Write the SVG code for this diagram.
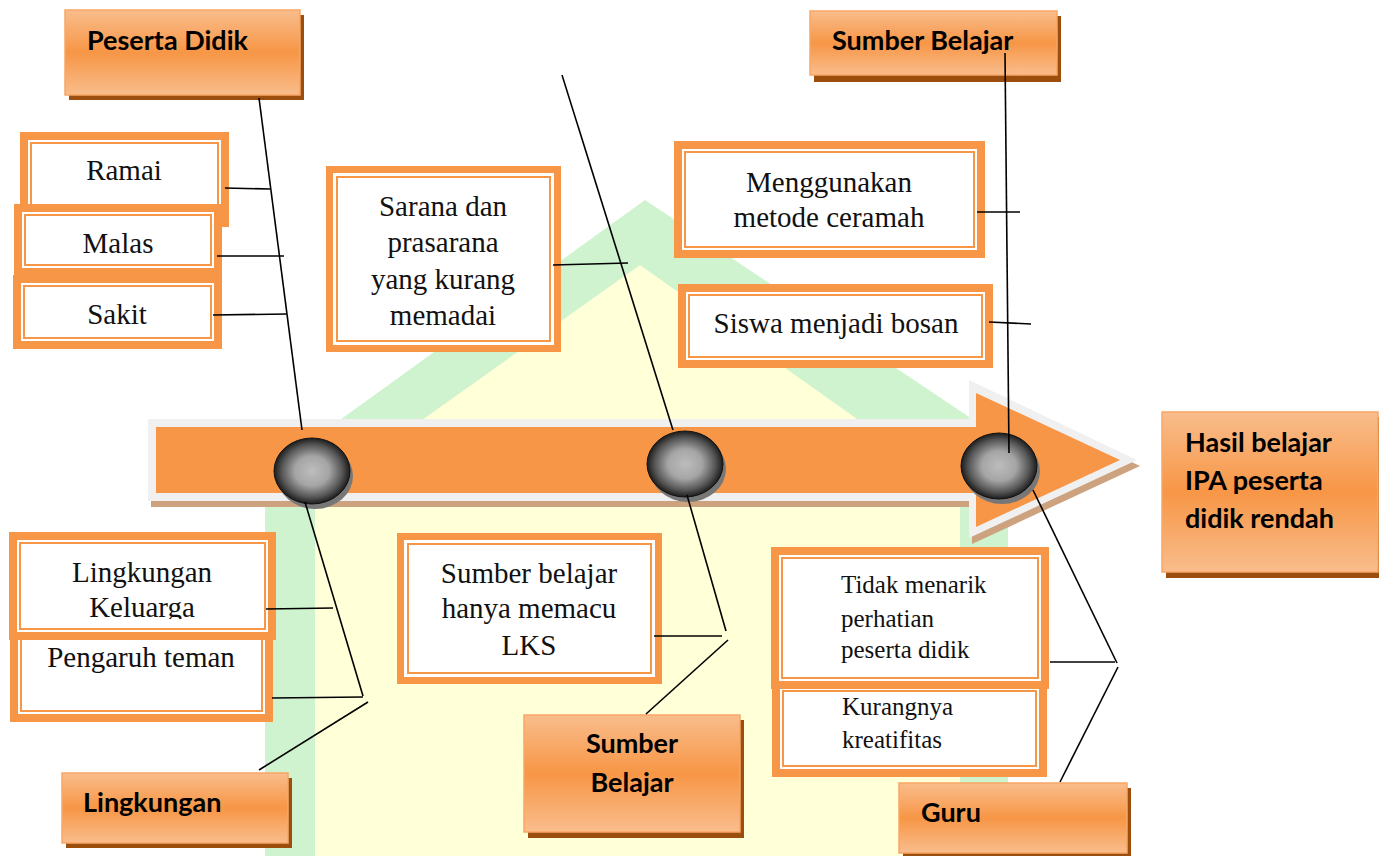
<svg xmlns="http://www.w3.org/2000/svg" width="1379" height="856" viewBox="0 0 1379 856">
<defs>
<linearGradient id="cat" x1="0" y1="0" x2="0" y2="1">
<stop offset="0" stop-color="#f9bd8c"/>
<stop offset="0.5" stop-color="#f79646"/>
<stop offset="1" stop-color="#f9bd8c"/>
</linearGradient>
<radialGradient id="ball" cx="0.5" cy="0.5" r="0.5">
<stop offset="0" stop-color="#bdbdbd"/>
<stop offset="0.45" stop-color="#a5a5a5"/>
<stop offset="0.8" stop-color="#555"/>
<stop offset="1" stop-color="#1c1c1c"/>
</radialGradient>
<clipPath id="kclip"><rect x="0" y="540" width="300" height="79"/></clipPath>
<style>
.ob{fill:#f79646}
.wb{fill:#fff}
.il{fill:none;stroke:#f79646;stroke-width:2}
.cat{fill:url(#cat);stroke:#f8a765;stroke-width:1.5}
.sh{fill:#9b4e0e}
.t{font-family:"Liberation Serif","Times New Roman",serif;font-size:29px;fill:#111}
.ts{font-family:"Liberation Serif","Times New Roman",serif;font-size:25px;fill:#111}
.c{text-anchor:middle}
.ct{font-family:Lato,"Open Sans",sans-serif;font-weight:bold;font-size:27px;fill:#000}
.ln{stroke:#000;stroke-width:1.6;fill:none}
.ball{fill:url(#ball);stroke:#111;stroke-width:1}
.bsh{fill:#777}
</style>
</defs>
<rect width="1379" height="856" fill="#fff"/>
<g id="watermark">
<polygon points="645,200 1008,443 1008,856 265,856 265,474" fill="#cff3cf"/>
<polygon points="640,265 960,492 960,856 315,856 315,496" fill="#ffffd8"/>
</g>
<g id="spine">
<polygon points="151,425 972,425 972,386 1140,466 972,544 972,507 151,507" fill="#cda27f"/>
<polygon points="148,419 969,419 969,380 1137,460 969,538 969,501 148,501" fill="#f0f0f0"/>
<polygon points="156,427 976,427 976,393 1120,460 976,527 976,493 156,493" fill="#f79646"/>
</g>
<g id="ball1"><ellipse class="bsh" cx="315" cy="476" rx="38" ry="33"/><ellipse class="ball" cx="312" cy="471" rx="38" ry="33"/></g>
<g id="ball2"><ellipse class="bsh" cx="688" cy="469" rx="38" ry="33"/><ellipse class="ball" cx="685" cy="464" rx="38" ry="33"/></g>
<g id="ball3"><ellipse class="bsh" cx="1002" cy="471" rx="38" ry="33"/><ellipse class="ball" cx="999" cy="466" rx="38" ry="33"/></g>

<g id="peserta-didik"><rect class="sh" x="69" y="15" width="235" height="85"/><rect class="cat" x="65" y="10" width="235" height="85"/><text class="ct" x="87" y="50">Peserta Didik</text></g>
<g id="sumber-belajar-top"><rect class="sh" x="814" y="16" width="247" height="66"/><rect class="cat" x="810" y="11" width="247" height="64"/><text class="ct" x="832" y="50">Sumber Belajar</text></g>
<g id="hasil"><rect class="sh" x="1166" y="417" width="216" height="161"/><rect class="cat" x="1162" y="412" width="216" height="160"/><text class="ct" x="1185" y="452">Hasil belajar</text><text class="ct" x="1185" y="490">IPA peserta</text><text class="ct" x="1185" y="528">didik rendah</text></g>
<g id="lingkungan"><rect class="sh" x="66" y="778" width="226" height="70"/><rect class="cat" x="62" y="773" width="226" height="70"/><text class="ct" x="83" y="812">Lingkungan</text></g>
<g id="sumber-belajar-bottom"><rect class="sh" x="528" y="720" width="216" height="118"/><rect class="cat" x="524" y="715" width="216" height="117"/><text class="ct c" x="632" y="753">Sumber</text><text class="ct c" x="632" y="792">Belajar</text></g>
<g id="guru"><rect class="sh" x="903" y="788" width="228" height="70"/><rect class="cat" x="899" y="783" width="228" height="70"/><text class="ct" x="921" y="822">Guru</text></g>

<g id="ramai"><rect class="ob" x="20" y="132" width="209" height="95"/><rect class="wb" x="28" y="140" width="193" height="79"/><rect class="il" x="31" y="143" width="187" height="73"/><text class="t c" x="124" y="180">Ramai</text></g>
<g id="malas"><rect class="ob" x="14" y="204" width="208" height="72"/><rect class="wb" x="22" y="212" width="192" height="56"/><rect class="il" x="25" y="215" width="186" height="50"/><text class="t c" x="118" y="253">Malas</text></g>
<g id="sakit"><rect class="ob" x="13" y="275" width="209" height="74"/><rect class="wb" x="21" y="283" width="193" height="58"/><rect class="il" x="24" y="286" width="187" height="52"/><text class="t c" x="117" y="324">Sakit</text></g>
<g id="sarana"><rect class="ob" x="326" y="166" width="235" height="186"/><rect class="wb" x="333" y="173" width="221" height="172"/><rect class="il" x="337" y="177" width="213" height="164"/><text class="t c" x="443" y="216">Sarana dan</text><text class="t c" x="443" y="252">prasarana</text><text class="t c" x="443" y="289">yang kurang</text><text class="t c" x="443" y="325">memadai</text></g>
<g id="menggunakan"><rect class="ob" x="674" y="141" width="311" height="117"/><rect class="wb" x="682" y="149" width="295" height="101"/><rect class="il" x="685" y="152" width="289" height="95"/><text class="t c" x="829" y="192">Menggunakan</text><text class="t c" x="829" y="227">metode ceramah</text></g>
<g id="siswa"><rect class="ob" x="678" y="284" width="315" height="84"/><rect class="wb" x="686" y="292" width="299" height="68"/><rect class="il" x="689" y="295" width="293" height="62"/><text class="t c" x="836" y="333">Siswa menjadi bosan</text></g>
<g id="pengaruh"><rect class="ob" x="10" y="625" width="263" height="97"/><rect class="wb" x="18" y="633" width="247" height="81"/><rect class="il" x="21" y="636" width="241" height="75"/><text class="t c" x="141" y="667">Pengaruh teman</text></g>
<g id="lingkungan-keluarga"><rect class="ob" x="9" y="532" width="267" height="108"/><rect class="wb" x="17" y="540" width="251" height="92"/><rect class="il" x="20" y="543" width="245" height="86"/><text class="t c" x="142" y="582">Lingkungan</text><text class="t c" x="142" y="617" clip-path="url(#kclip)">Keluarga</text></g>
<g id="sumber-lks"><rect class="ob" x="397" y="533" width="265" height="151"/><rect class="wb" x="404" y="540" width="251" height="137"/><rect class="il" x="408" y="544" width="243" height="129"/><text class="t c" x="529" y="583">Sumber belajar</text><text class="t c" x="529" y="618">hanya memacu</text><text class="t c" x="529" y="655">LKS</text></g>
<g id="kurangnya"><rect class="ob" x="772" y="680" width="275" height="97"/><rect class="wb" x="780" y="688" width="259" height="81"/><rect class="il" x="783" y="691" width="253" height="75"/><text class="ts" x="842" y="715">Kurangnya</text><text class="ts" x="842" y="748">kreatifitas</text></g>
<g id="tidak-menarik"><rect class="ob" x="771" y="547" width="278" height="142"/><rect class="wb" x="779" y="555" width="262" height="126"/><rect class="il" x="782" y="558" width="256" height="120"/><text class="ts" x="841" y="593">Tidak menarik</text><text class="ts" x="841" y="627">perhatian</text><text class="ts" x="841" y="658">peserta didik</text></g>

<g id="connectors">
<line class="ln" x1="259" y1="98" x2="302" y2="430"/>
<line class="ln" x1="225" y1="188" x2="270" y2="189"/>
<line class="ln" x1="217" y1="256" x2="284" y2="256"/>
<line class="ln" x1="213" y1="315" x2="287" y2="314"/>
<line class="ln" x1="562" y1="75" x2="673" y2="430"/>
<line class="ln" x1="553" y1="265" x2="628" y2="263"/>
<line class="ln" x1="1005" y1="53" x2="1009" y2="453"/>
<line class="ln" x1="977" y1="212" x2="1020" y2="212"/>
<line class="ln" x1="989" y1="322" x2="1031" y2="324"/>
<line class="ln" x1="305" y1="502" x2="363" y2="696"/>
<line class="ln" x1="266" y1="609" x2="333" y2="608"/>
<line class="ln" x1="272" y1="698" x2="363" y2="697"/>
<line class="ln" x1="368" y1="702" x2="259" y2="770"/>
<line class="ln" x1="687" y1="495" x2="726" y2="631"/>
<line class="ln" x1="654" y1="636" x2="722" y2="636"/>
<line class="ln" x1="728" y1="640" x2="646" y2="714"/>
<line class="ln" x1="1033" y1="490" x2="1117" y2="663"/>
<line class="ln" x1="1050" y1="662" x2="1115" y2="662"/>
<line class="ln" x1="1118" y1="667" x2="1060" y2="782"/>
</g>
</svg>
